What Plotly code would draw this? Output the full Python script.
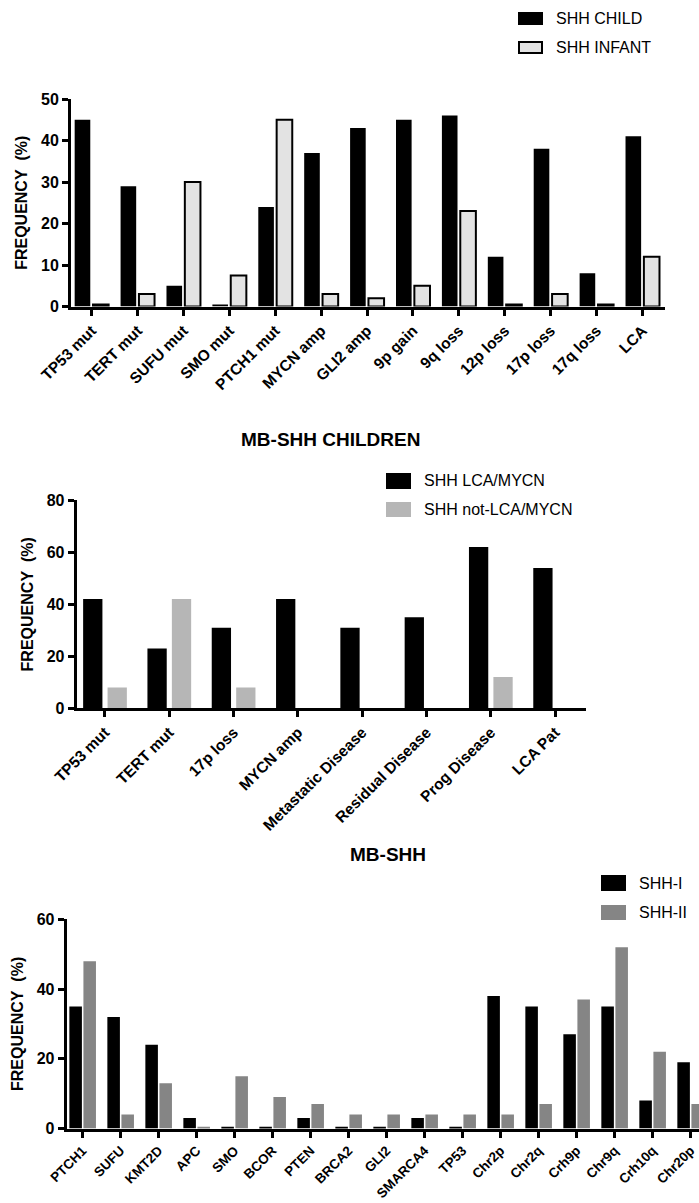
import plotly.graph_objects as go

# ---------------- DATA ----------------
top_categories = ["TP53 mut", "TERT mut", "SUFU mut", "SMO mut", "PTCH1 mut", "MYCN amp",
                  "GLI2 amp", "9p gain", "9q loss", "12p loss", "17p loss", "17q loss", "LCA"]
shh_child = [45, 29, 5, 0.5, 24, 37, 43, 45, 46, 12, 38, 8, 41]
shh_infant = [0.5, 3, 30, 7.5, 45, 3, 2, 5, 23, 0.5, 3, 0.5, 12]

mid_categories = ["TP53 mut", "TERT mut", "17p loss", "MYCN amp", "Metastatic Disease",
                  "Residual Disease", "Prog Disease", "LCA Pat"]
shh_lca_mycn = [42, 23, 31, 42, 31, 35, 62, 54]
shh_not_lca_mycn = [8, 42, 8, 0, 0, 0, 12, 0]

bot_categories = ["PTCH1", "SUFU", "KMT2D", "APC", "SMO", "BCOR", "PTEN", "BRCA2", "GLI2",
                  "SMARCA4", "TP53", "Chr2p", "Chr2q", "Crh9p", "Chr9q", "Crh10q", "Chr20p"]
shh_i = [35, 32, 24, 3, 0.5, 0.5, 3, 0.5, 0.5, 3, 0.5, 38, 35, 27, 35, 8, 19]
shh_ii = [48, 4, 13, 0.5, 15, 9, 7, 4, 4, 4, 4, 4, 7, 37, 52, 22, 7]

top_ticks = [0, 10, 20, 30, 40, 50]
mid_ticks = [0, 20, 40, 60, 80]
bot_ticks = [0, 20, 40, 60]

# ---------------- STYLE ----------------
W, H = 699, 1203
FONT = "Arial, 'Liberation Sans', sans-serif"
BLACK = "#000000"
INFANT_FILL = "#e3e3e3"
MID_GREY = "#b6b6b6"
BOT_GREY = "#858585"


def px_x(p):
    return p / W


def px_y(p):
    return 1 - p / H


fig = go.Figure()


def add_pair(xa, ya, cats, v1, v2, c1, c2, off1, off2, bw, line2=0, name1="", name2=""):
    idx = list(range(len(cats)))
    fig.add_trace(go.Bar(x=idx, y=v1, name=name1, xaxis=xa, yaxis=ya, marker_color=c1,
                         marker_line_width=0, width=bw, offset=off1, showlegend=False))
    fig.add_trace(go.Bar(x=idx, y=v2, name=name2, xaxis=xa, yaxis=ya, marker_color=c2,
                         marker_line_color=BLACK, marker_line_width=line2, width=bw,
                         offset=off2, showlegend=False))


add_pair("x", "y", top_categories, shh_child, shh_infant, BLACK, INFANT_FILL,
         -0.37, 0.03, 0.34, line2=2, name1="SHH CHILD", name2="SHH INFANT")
add_pair("x2", "y2", mid_categories, shh_lca_mycn, shh_not_lca_mycn, BLACK, MID_GREY,
         -0.34, 0.04, 0.30, name1="SHH LCA/MYCN", name2="SHH not-LCA/MYCN")
add_pair("x3", "y3", bot_categories, shh_i, shh_ii, BLACK, BOT_GREY,
         -0.35, 0.02, 0.33, name1="SHH-I", name2="SHH-II")

tickfont = dict(family=FONT, size=16, color=BLACK, weight="bold")
titlefont = dict(family=FONT, size=16, color=BLACK, weight="bold")


def xaxis(cats, rng, dom, anchor, fsize):
    return dict(domain=dom, range=rng, anchor=anchor, tickmode="array",
                tickvals=list(range(len(cats))), ticktext=cats, tickangle=-45,
                showline=True, linecolor=BLACK, linewidth=3, ticks="outside",
                ticklen=6, tickwidth=2.5, tickcolor=BLACK,
                tickfont=dict(family=FONT, size=fsize, color=BLACK, weight="bold"),
                showgrid=False, zeroline=False, fixedrange=True, automargin=False)


def yaxis(ticks, dom, anchor):
    return dict(domain=dom, range=[0, ticks[-1]], anchor=anchor, tickmode="array",
                tickvals=ticks, ticktext=[str(t) for t in ticks],
                showline=True, linecolor=BLACK, linewidth=3, ticks="outside",
                ticklen=6, tickwidth=2.5, tickcolor=BLACK, tickfont=tickfont,
                showgrid=False, zeroline=False, fixedrange=True, automargin=False,
                title=dict(text="FREQUENCY\u00a0\u00a0(%)", font=titlefont, standoff=10))


fig.update_layout(
    width=W, height=H, margin=dict(l=0, r=0, t=0, b=0, autoexpand=False),
    paper_bgcolor="white", plot_bgcolor="white", barmode="overlay",
    xaxis=xaxis(top_categories, [-0.45, 12.49], [px_x(71), px_x(665)], "y", 15.5),
    yaxis=yaxis(top_ticks, [px_y(306.5), px_y(99)], "x"),
    xaxis2=xaxis(mid_categories, [-0.44, 7.48], [px_x(76.7), px_x(586)], "y2", 15.5),
    yaxis2=yaxis(mid_ticks, [px_y(708.3), px_y(500.3)], "x2"),
    xaxis3=xaxis(bot_categories, [-0.42, 16.22], [px_x(66.7), 1.0], "y3", 13.5),
    yaxis3=yaxis(bot_ticks, [px_y(1128.5), px_y(919.3)], "x3"),
)

# ---------------- LEGENDS (swatches + labels) ----------------
shapes = []
annotations = []


def legend_item(x0, x1, y0, y1, fill, text, tx, border=0):
    shapes.append(dict(type="rect", xref="paper", yref="paper",
                       x0=px_x(x0), x1=px_x(x1), y0=px_y(y1), y1=px_y(y0),
                       fillcolor=fill, line=dict(color=BLACK, width=border)))
    annotations.append(dict(xref="paper", yref="paper", x=px_x(tx), y=px_y((y0 + y1) / 2),
                            xanchor="left", yanchor="middle", showarrow=False, text=text,
                            font=dict(family=FONT, size=16, color=BLACK)))


legend_item(518, 543, 12, 25, BLACK, "SHH CHILD", 554)
legend_item(519, 542, 42, 53, INFANT_FILL, "SHH INFANT", 554, border=2)
legend_item(386, 411, 473, 489, BLACK, "SHH LCA/MYCN", 422)
legend_item(386, 411, 502, 517, MID_GREY, "SHH not-LCA/MYCN", 422)
legend_item(601, 626, 875, 891, BLACK, "SHH-I", 637)
legend_item(601, 626, 905, 920, BOT_GREY, "SHH-II", 637)

annotations.append(dict(xref="paper", yref="paper", x=px_x(330), y=px_y(439),
                        xanchor="center", yanchor="middle", showarrow=False,
                        text="MB-SHH CHILDREN",
                        font=dict(family=FONT, size=19, color=BLACK, weight="bold")))
annotations.append(dict(xref="paper", yref="paper", x=px_x(388), y=px_y(854),
                        xanchor="center", yanchor="middle", showarrow=False,
                        text="MB-SHH",
                        font=dict(family=FONT, size=19, color=BLACK, weight="bold")))

fig.update_layout(shapes=shapes, annotations=annotations)

fig.write_html("out.html")
